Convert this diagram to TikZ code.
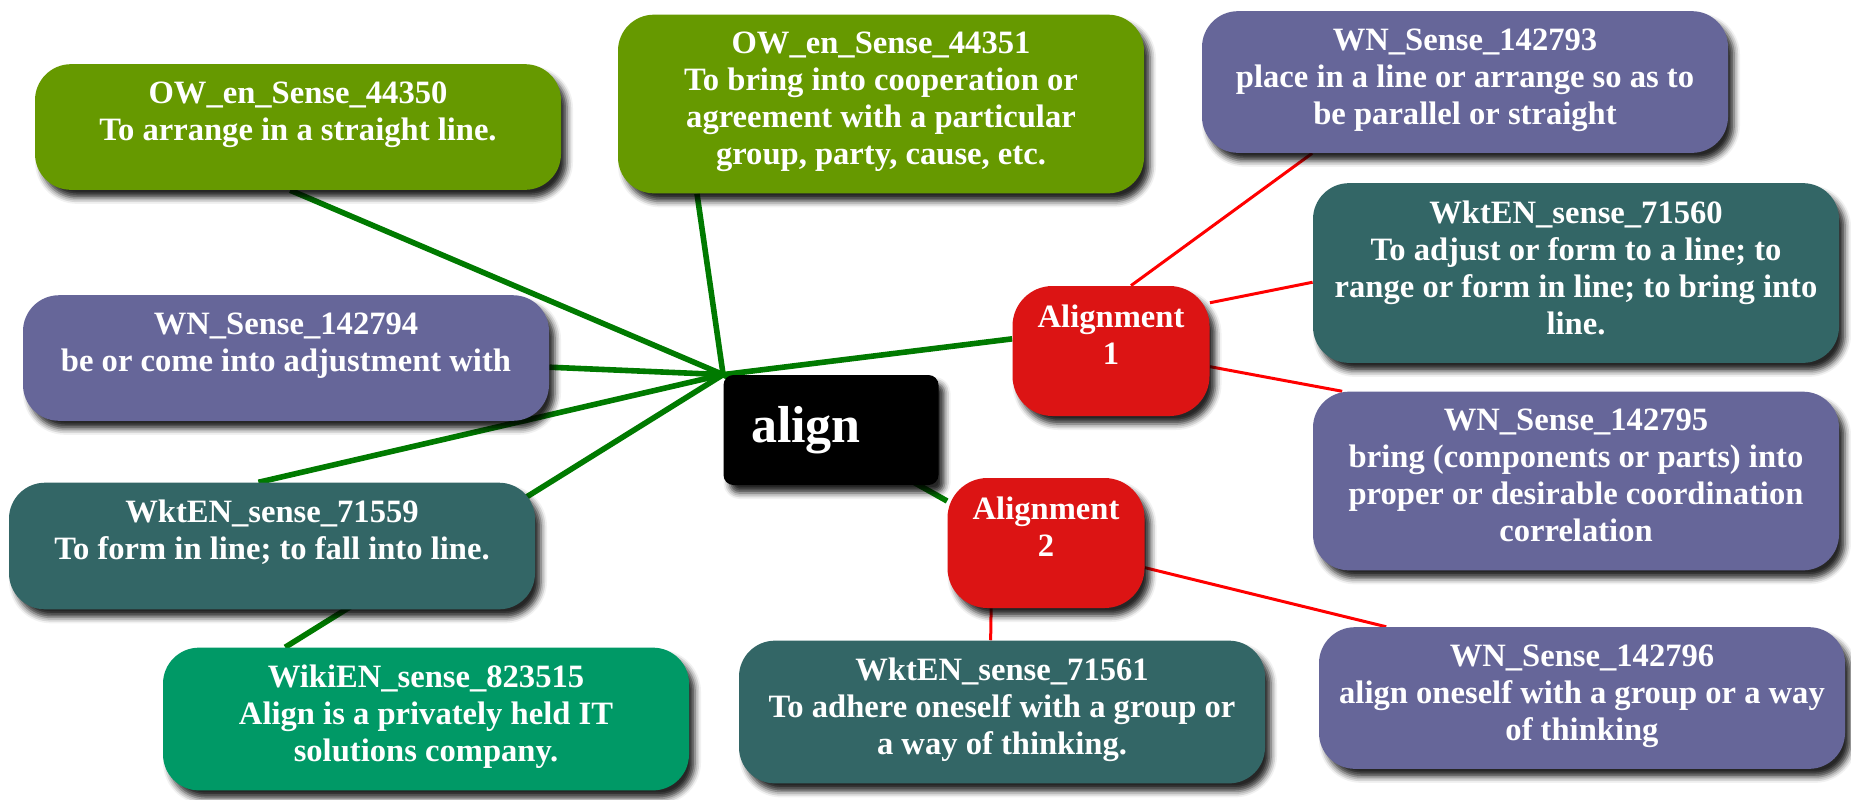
\documentclass[tikz,border=0pt]{standalone}
\usepackage{fontspec}
\setmainfont{Liberation Serif}
\usetikzlibrary{backgrounds, shadows.blur}
\definecolor{owgreen}{HTML}{669900}
\definecolor{wnpurple}{HTML}{666699}
\definecolor{wktteal}{HTML}{336666}
\definecolor{wikigreen}{HTML}{009966}
\definecolor{alignred}{HTML}{DC1414}
\definecolor{hubgreen}{HTML}{007A00}
\tikzset{
  boxshadow/.style={blur shadow={shadow xshift=3pt, shadow yshift=-4pt, shadow blur radius=3pt, shadow opacity=85}},
  sense/.style={rectangle, rounded corners=18pt, minimum width=263pt, inner xsep=6pt, inner ysep=8.75pt,
    align=center, text=white, boxshadow,
    font=\bfseries\fontsize{16.3}{18.5}\selectfont, execute at begin node=\strut, execute at end node=\strut},
  twoline/.style={text depth=16pt},
  ow/.style={sense, fill=owgreen},
  wn/.style={sense, fill=wnpurple},
  wkt/.style={sense, fill=wktteal},
  wiki/.style={sense, fill=wikigreen},
  alignment/.style={sense, fill=alignred, rounded corners=20pt, minimum width=98.5pt, minimum height=65pt, twoline},
  hubline/.style={draw=hubgreen, line width=2.8pt},
  subline/.style={draw=red, line width=1.5pt}
}
\begin{document}
\begin{tikzpicture}[x=0.5pt, y=-0.5pt]
  \useasboundingbox (0,0) rectangle (1851,799);
  % the word
  \node[fill=black, rounded corners=5pt, text=white, boxshadow, minimum width=107.5pt, minimum height=55pt,
    text width=80pt, inner xsep=13.5pt, align=left, font=\bfseries\fontsize{26}{30}\selectfont] (align) at (831,430) {align};
  \coordinate (hub) at (align.north west);
  % senses
  \node[ow, twoline] (ow_44350) at (298,127) {OW\_en\_Sense\_44350\\To arrange in a straight line.};
  \node[ow] (ow_44351) at (881,104) {OW\_en\_Sense\_44351\\To bring into cooperation or\\agreement with a particular\\group, party, cause, etc.};
  \node[wn, twoline] (wn_142794) at (286,358) {WN\_Sense\_142794\\be or come into adjustment with};
  \node[wkt, twoline] (wkt_71559) at (272,546) {WktEN\_sense\_71559\\To form in line; to fall into line.};
  \node[wiki] (wiki_823515) at (426,719) {WikiEN\_sense\_823515\\Align is a privately held IT\\solutions company.};
  \node[alignment] (alignment_1) at (1111,351) {Alignment\\1};
  \node[alignment] (alignment_2) at (1046,543) {Alignment\\2};
  \node[wn] (wn_142793) at (1465,82) {WN\_Sense\_142793\\place in a line or arrange so as to\\be parallel or straight};
  \node[wkt] (wkt_71560) at (1576,273) {WktEN\_sense\_71560\\To adjust or form to a line; to\\range or form in line; to bring into\\line.};
  \node[wn] (wn_142795) at (1576,481) {WN\_Sense\_142795\\bring (components or parts) into\\proper or desirable coordination\\correlation};
  \node[wn] (wn_142796) at (1582,698) {WN\_Sense\_142796\\align oneself with a group or a way\\of thinking};
  \node[wkt] (wkt_71561) at (1002,712) {WktEN\_sense\_71561\\To adhere oneself with a group or\\a way of thinking.};
  % links
  \begin{scope}[on background layer]
    \draw (hub) edge[hubline] (ow_44350.263)
      (hub) edge[hubline] (ow_44351.206)
      (hub) edge[hubline] (wn_142794.-2)
      (hub) edge[hubline] (wkt_71559.102)
      (hub) edge[hubline] (wiki_823515.153)
      (hub) edge[hubline] (alignment_1.173)
      (hub) edge[hubline] (alignment_2.157);
    \draw (alignment_1.73) edge[subline] (wn_142793.205)
      (alignment_1.26) edge[subline] (wkt_71560.182)
      (alignment_1.-9) edge[subline] (wn_142795.159)
      (alignment_2.230) edge[subline] (wkt_71561.99)
      (alignment_2.-14) edge[subline] (wn_142796.160);
  \end{scope}
\end{tikzpicture}
\end{document}
